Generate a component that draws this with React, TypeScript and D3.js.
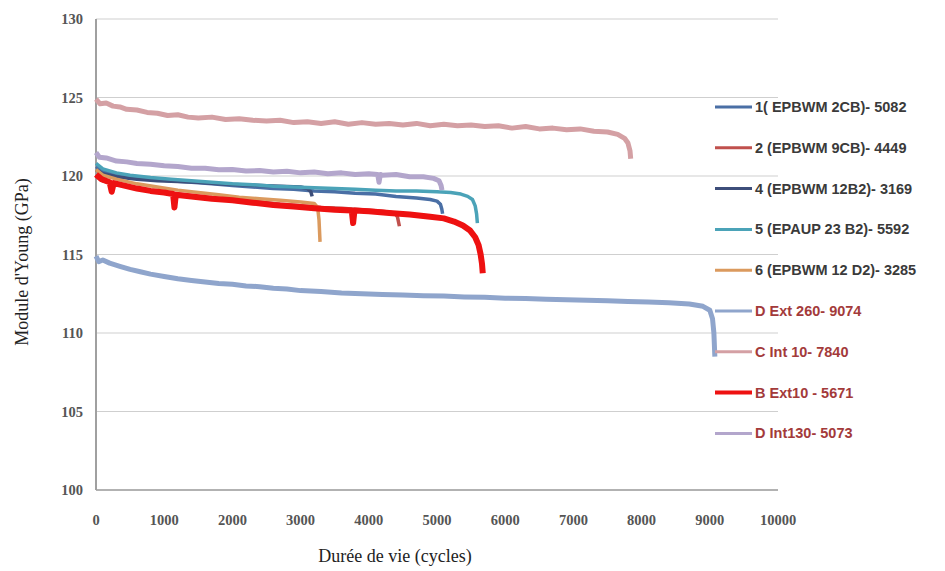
import React from "react";
import * as d3 from "d3";

type Pt = [number, number];

const xTicks = [0, 1000, 2000, 3000, 4000, 5000, 6000, 7000, 8000, 9000, 10000];
const yTicks = [100, 105, 110, 115, 120, 125, 130];

const s1: Pt[] = [[0,120.6],[100,120.3],[300,120.05],[500,119.9],[800,119.8],[1100,119.7],[1400,119.6],[1700,119.5],[2000,119.4],[2300,119.3],[2600,119.2],[2900,119.15],[3200,119.05],[3500,119.0],[3800,118.9],[4100,118.85],[4400,118.7],[4700,118.6],[4900,118.5],[5000,118.4],[5050,118.2],[5070,117.9],[5082,117.6]];
const s2: Pt[] = [[0,120.0],[100,119.7],[300,119.45],[600,119.2],[900,119.0],[1200,118.85],[1500,118.7],[1800,118.55],[2100,118.45],[2400,118.35],[2700,118.2],[3000,118.1],[3300,118.0],[3600,117.95],[3900,117.85],[4200,117.75],[4380,117.65],[4420,117.4],[4449,116.8]];
const s4: Pt[] = [[0,120.4],[100,120.15],[300,119.95],[600,119.8],[900,119.7],[1200,119.65],[1500,119.6],[1800,119.5],[2100,119.45],[2400,119.4],[2700,119.35],[3000,119.3],[3100,119.2],[3150,119.0],[3169,118.7]];
const s5: Pt[] = [[0,120.8],[100,120.45],[300,120.2],[500,120.05],[800,119.9],[1100,119.8],[1400,119.7],[1700,119.6],[2000,119.5],[2300,119.45],[2600,119.35],[2900,119.3],[3200,119.25],[3500,119.2],[3800,119.15],[4100,119.1],[4400,119.05],[4700,119.05],[5000,119.0],[5200,118.95],[5350,118.85],[5450,118.7],[5520,118.5],[5560,118.1],[5580,117.6],[5592,117.0]];
const s6: Pt[] = [[0,120.4],[100,120.05],[300,119.8],[600,119.5],[900,119.3],[1200,119.1],[1500,118.95],[1800,118.8],[2100,118.65],[2400,118.55],[2700,118.45],[3000,118.35],[3200,118.25],[3250,118.0],[3270,117.2],[3285,115.8]];
const dExt260: Pt[] = [[0,114.9],[40,114.55],[100,114.65],[200,114.45],[350,114.25],[500,114.05],[650,113.9],[800,113.75],[1000,113.6],[1200,113.45],[1400,113.35],[1600,113.25],[1800,113.15],[2000,113.1],[2200,113.0],[2400,112.95],[2600,112.85],[2800,112.8],[3000,112.7],[3300,112.65],[3600,112.55],[3900,112.5],[4200,112.45],[4500,112.42],[4800,112.38],[5100,112.35],[5400,112.3],[5700,112.27],[6000,112.22],[6300,112.2],[6600,112.15],[6900,112.12],[7200,112.08],[7500,112.05],[7800,112.0],[8100,111.97],[8400,111.92],[8700,111.85],[8900,111.7],[9000,111.45],[9040,110.9],[9060,110.0],[9074,108.5]];
const cInt10: Pt[] = [[0,124.9],[60,124.6],[150,124.65],[250,124.45],[350,124.4],[450,124.25],[600,124.2],[750,124.05],[900,124.0],[1050,123.85],[1200,123.9],[1350,123.75],[1500,123.7],[1700,123.75],[1900,123.6],[2100,123.65],[2300,123.55],[2500,123.5],[2700,123.55],[2900,123.4],[3100,123.45],[3300,123.35],[3500,123.45],[3700,123.3],[3900,123.4],[4100,123.3],[4300,123.35],[4500,123.25],[4700,123.35],[4900,123.2],[5100,123.3],[5300,123.2],[5500,123.25],[5700,123.15],[5900,123.2],[6100,123.05],[6300,123.15],[6500,123.0],[6700,123.05],[6900,122.95],[7100,123.0],[7300,122.85],[7500,122.8],[7650,122.65],[7750,122.4],[7800,122.1],[7830,121.6],[7840,121.1]];
const bExt10: Pt[] = [[0,120.1],[80,119.8],[200,119.6],[230,119.0],[260,119.55],[400,119.4],[600,119.2],[800,119.05],[1000,118.95],[1130,118.85],[1150,118.0],[1170,118.8],[1400,118.7],[1700,118.55],[2000,118.45],[2300,118.3],[2600,118.15],[2900,118.05],[3200,117.95],[3500,117.85],[3750,117.8],[3770,117.0],[3790,117.8],[4000,117.75],[4300,117.65],[4600,117.55],[4900,117.4],[5100,117.3],[5250,117.1],[5380,116.85],[5480,116.55],[5560,116.1],[5610,115.6],[5640,115.0],[5660,114.4],[5671,113.8]];
const dInt130: Pt[] = [[0,121.5],[50,121.2],[150,121.15],[300,120.95],[450,120.9],[600,120.8],[800,120.75],[1000,120.65],[1200,120.6],[1400,120.5],[1600,120.5],[1800,120.4],[2000,120.42],[2200,120.32],[2400,120.35],[2600,120.25],[2800,120.3],[3000,120.2],[3200,120.25],[3400,120.15],[3600,120.2],[3800,120.1],[4000,120.15],[4130,120.1],[4150,119.6],[4170,120.1],[4200,120.05],[4400,120.1],[4600,119.95],[4800,119.95],[4950,119.85],[5030,119.7],[5060,119.4],[5073,119.1]];

const seriesNames = ["1( EPBWM 2CB)- 5082","2 (EPBWM 9CB)- 4449","4 (EPBWM 12B2)- 3169","5 (EPAUP 23 B2)- 5592","6  (EPBWM 12 D2)- 3285","D Ext 260- 9074","C Int 10- 7840","B Ext10 - 5671","D Int130- 5073"];
const seriesData: Pt[][] = [s1, s2, s4, s5, s6, dExt260, cInt10, bExt10, dInt130];
const seriesColors = ["#4A6FA5","#C0504D","#3D4E7A","#4BA3B8","#DB9A5E","#8FA5CC","#D4A0A4","#EE1111","#B3A6CC"];
const seriesWidths = [3.5, 3.5, 3.5, 3.5, 3.5, 5, 5, 6, 5];
const labelColors = ["#3A3A3A","#3A3A3A","#3A3A3A","#3A3A3A","#3A3A3A","#A33A3A","#A33A3A","#A33A3A","#A33A3A"];

export default function App() {
  const x = d3.scaleLinear().domain([0, 10000]).range([96, 778]);
  const y = d3.scaleLinear().domain([100, 130]).range([490, 19]);
  const line = d3.line<Pt>().x(d => x(d[0])).y(d => y(d[1]));
  const serif = "'Liberation Serif', 'DejaVu Serif', serif";
  return (
    <svg width={945} height={571} style={{ position: "absolute", left: 0, top: 0, background: "#fff" }}>
      {yTicks.map(t => (
        <line key={"g" + t} x1={x(0)} x2={x(10000)} y1={y(t)} y2={y(t)} stroke="#CFCFCF" strokeWidth={1.2} />
      ))}
      <line x1={x(0)} x2={x(0)} y1={y(130)} y2={y(100)} stroke="#A0A0A0" strokeWidth={2} />
      <line x1={x(0)} x2={x(10000)} y1={y(100)} y2={y(100)} stroke="#A0A0A0" strokeWidth={1.5} />
      {yTicks.map(t => (
        <text key={"yl" + t} x={83} y={y(t)} dy="0.35em" textAnchor="end" fontFamily={serif} fontWeight="bold" fontSize={14.5} fill="#555">{t}</text>
      ))}
      {xTicks.map(t => (
        <text key={"xl" + t} x={x(t)} y={520} dy="0.35em" textAnchor="middle" fontFamily={serif} fontWeight="bold" fontSize={14.5} fill="#555">{t}</text>
      ))}
      <text x={395} y={556} dy="0.35em" textAnchor="middle" fontFamily={serif} fontSize={18} fill="#222">Durée de vie (cycles)</text>
      <text transform={`translate(22,262) rotate(-90)`} dy="0.35em" textAnchor="middle" fontFamily={serif} fontSize={18} fill="#222">Module d'Young (GPa)</text>
      {seriesData.map((d, i) => (
        <path key={"s" + i} d={line(d) || ""} fill="none" stroke={seriesColors[i]} strokeWidth={seriesWidths[i]} strokeLinejoin="round" />
      ))}
      {seriesNames.map((n, i) => {
        const ly = 107 + i * 40.8;
        return (
          <g key={"lg" + i}>
            <line x1={715} x2={752} y1={ly} y2={ly} stroke={seriesColors[i]} strokeWidth={i === 7 ? 4 : 3} />
            <text x={755} y={ly} dy="0.35em" fontFamily="'Liberation Sans', Arial, sans-serif" fontWeight="bold" fontSize={14.5} fill={labelColors[i]}>{n}</text>
          </g>
        );
      })}
    </svg>
  );
}
